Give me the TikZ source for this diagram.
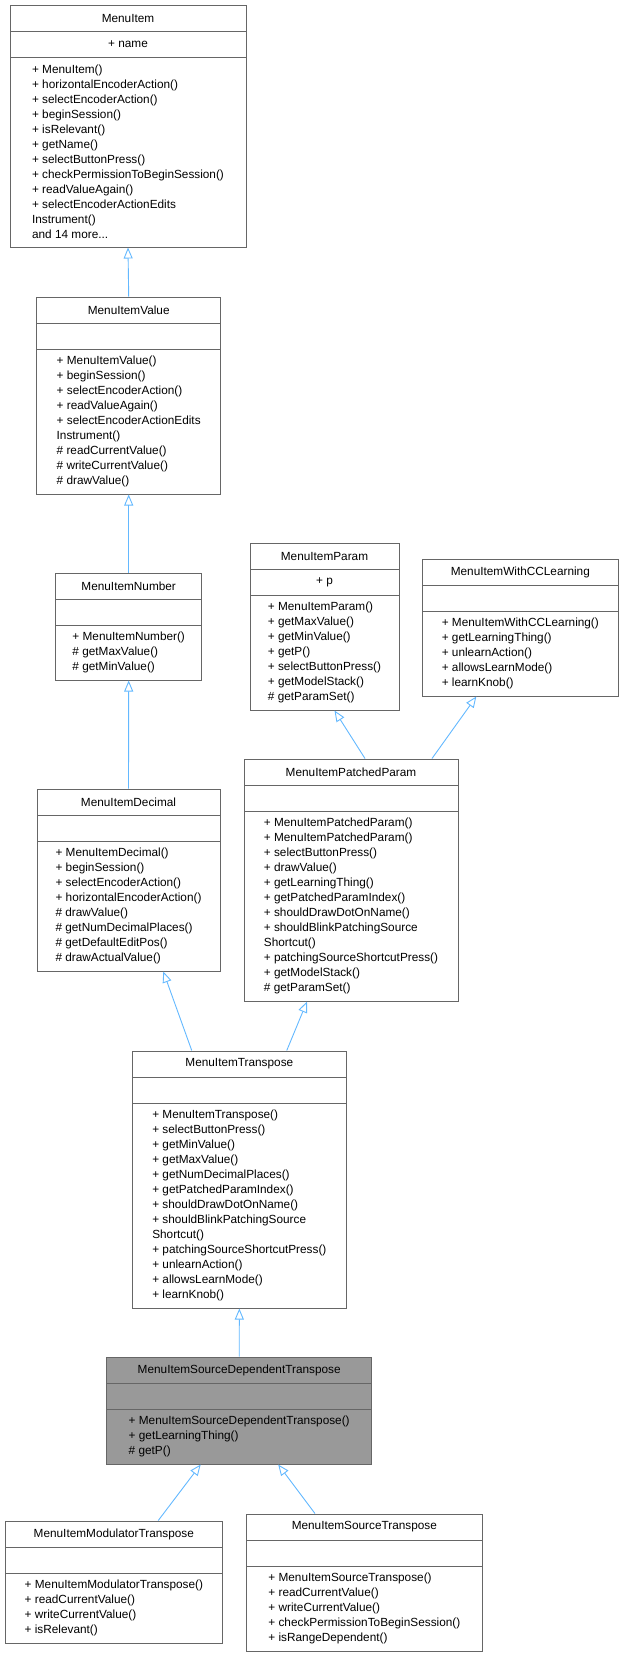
\documentclass[tikz,border=0pt]{standalone}
\usepackage{fontspec}
\setmainfont{Liberation Sans}
\usetikzlibrary{arrows.meta}
\definecolor{boxgray}{HTML}{666666}
\definecolor{hilite}{HTML}{999999}
\definecolor{edgeblue}{HTML}{63B8FF}
\tikzset{
  umlframe/.style={draw=boxgray, line width=1pt, inner sep=0pt, fill=white},
  umltext/.style={inner sep=0pt, align=left, font=\fontsize{11.8}{15}\selectfont},
  inh/.style={draw=edgeblue, line width=0.9pt, -{Triangle[open, length=11pt, width=9pt]}},
}
\newcommand{\umlbox}[9]{%
  \pgfmathsetmacro\bw{#4-#3}\pgfmathsetmacro\bh{#6-#5}%
  \pgfmathsetmacro\cx{(#3+#4)/2}\pgfmathsetmacro\cy{-(#5+#6)/2}%
  \pgfmathsetmacro\sa{-#5-26}\pgfmathsetmacro\sb{-#5-52}%
  \pgfmathsetmacro\ty{-#5-13}\pgfmathsetmacro\ay{-#5-39}%
  \pgfmathsetmacro\my{-(#5+52+#6)/2}%
  \node[umlframe,#1,minimum width=\bw pt,minimum height=\bh pt] (#2) at (\cx,\cy) {};
  \draw[boxgray, line width=1pt] (#3,\sa) -- (#4,\sa) (#3,\sb) -- (#4,\sb);
  \node[umltext] (#2-t) at (\cx,\ty) {#7};
  \node[umltext] (#2-a) at (\cx,\ay) {#8};
  \node[umltext] (#2-m) at (\cx,\my) {#9};
}
\begin{document}
\begin{tikzpicture}[x=1pt,y=1pt]
\useasboundingbox (0,0) rectangle (624,-1657);
\umlbox{}{item}{10}{246}{5}{247}{MenuItem}{+ name}{+ MenuItem()\\+ horizontalEncoderAction()\\+ selectEncoderAction()\\+ beginSession()\\+ isRelevant()\\+ getName()\\+ selectButtonPress()\\+ checkPermissionToBeginSession()\\+ readValueAgain()\\+ selectEncoderActionEdits\\Instrument()\\and 14 more...}
\umlbox{}{value}{36.7}{220.7}{297}{494}{MenuItemValue}{}{+ MenuItemValue()\\+ beginSession()\\+ selectEncoderAction()\\+ readValueAgain()\\+ selectEncoderActionEdits\\Instrument()\\\# readCurrentValue()\\\# writeCurrentValue()\\\# drawValue()}
\umlbox{}{number}{55.7}{201.7}{573}{680}{MenuItemNumber}{}{+ MenuItemNumber()\\\# getMaxValue()\\\# getMinValue()}
\umlbox{}{decimal}{37}{220}{789}{971}{MenuItemDecimal}{}{+ MenuItemDecimal()\\+ beginSession()\\+ selectEncoderAction()\\+ horizontalEncoderAction()\\\# drawValue()\\\# getNumDecimalPlaces()\\\# getDefaultEditPos()\\\# drawActualValue()}
\umlbox{}{param}{250}{399}{543}{710}{MenuItemParam}{+ p}{+ MenuItemParam()\\+ getMaxValue()\\+ getMinValue()\\+ getP()\\+ selectButtonPress()\\+ getModelStack()\\\# getParamSet()}
\umlbox{}{cc}{422.7}{618}{559}{696}{MenuItemWithCCLearning}{}{+ MenuItemWithCCLearning()\\+ getLearningThing()\\+ unlearnAction()\\+ allowsLearnMode()\\+ learnKnob()}
\umlbox{}{patched}{244}{458}{759}{1001}{MenuItemPatchedParam}{}{+ MenuItemPatchedParam()\\+ MenuItemPatchedParam()\\+ selectButtonPress()\\+ drawValue()\\+ getLearningThing()\\+ getPatchedParamIndex()\\+ shouldDrawDotOnName()\\+ shouldBlinkPatchingSource\\Shortcut()\\+ patchingSourceShortcutPress()\\+ getModelStack()\\\# getParamSet()}
\umlbox{}{transpose}{132}{346.7}{1051}{1308}{MenuItemTranspose}{}{+ MenuItemTranspose()\\+ selectButtonPress()\\+ getMinValue()\\+ getMaxValue()\\+ getNumDecimalPlaces()\\+ getPatchedParamIndex()\\+ shouldDrawDotOnName()\\+ shouldBlinkPatchingSource\\Shortcut()\\+ patchingSourceShortcutPress()\\+ unlearnAction()\\+ allowsLearnMode()\\+ learnKnob()}
\umlbox{fill=hilite}{srcdep}{106.7}{371.7}{1357}{1464}{MenuItemSourceDependentTranspose}{}{+ MenuItemSourceDependentTranspose()\\+ getLearningThing()\\\# getP()}
\umlbox{}{modtr}{5}{222.7}{1521}{1643}{MenuItemModulatorTranspose}{}{+ MenuItemModulatorTranspose()\\+ readCurrentValue()\\+ writeCurrentValue()\\+ isRelevant()}
\umlbox{}{srctr}{246.7}{482}{1514}{1651}{MenuItemSourceTranspose}{}{+ MenuItemSourceTranspose()\\+ readCurrentValue()\\+ writeCurrentValue()\\+ checkPermissionToBeginSession()\\+ isRangeDependent()}
% edges
\draw[inh] (value.north) -- (item.south);
\draw[inh] (number.north) -- (value.south);
\draw[inh] (decimal.north) -- (number.south);
\draw[inh] ([xshift=14pt]patched.north) -- ([xshift=10pt]param.south);
\draw[inh] ([xshift=81pt]patched.north) -- ([xshift=-44pt]cc.south);
\draw[inh] ([xshift=-47.6pt]transpose.north) -- ([xshift=34.8pt]decimal.south);
\draw[inh] ([xshift=47.4pt]transpose.north) -- ([xshift=-44pt]patched.south);
\draw[inh] (srcdep.north) -- (transpose.south);
\draw[inh] ([xshift=44.4pt]modtr.north) -- ([xshift=-38.5pt]srcdep.south);
\draw[inh] ([xshift=-49.4pt]srctr.north) -- ([xshift=39pt]srcdep.south);
\end{tikzpicture}
\end{document}
